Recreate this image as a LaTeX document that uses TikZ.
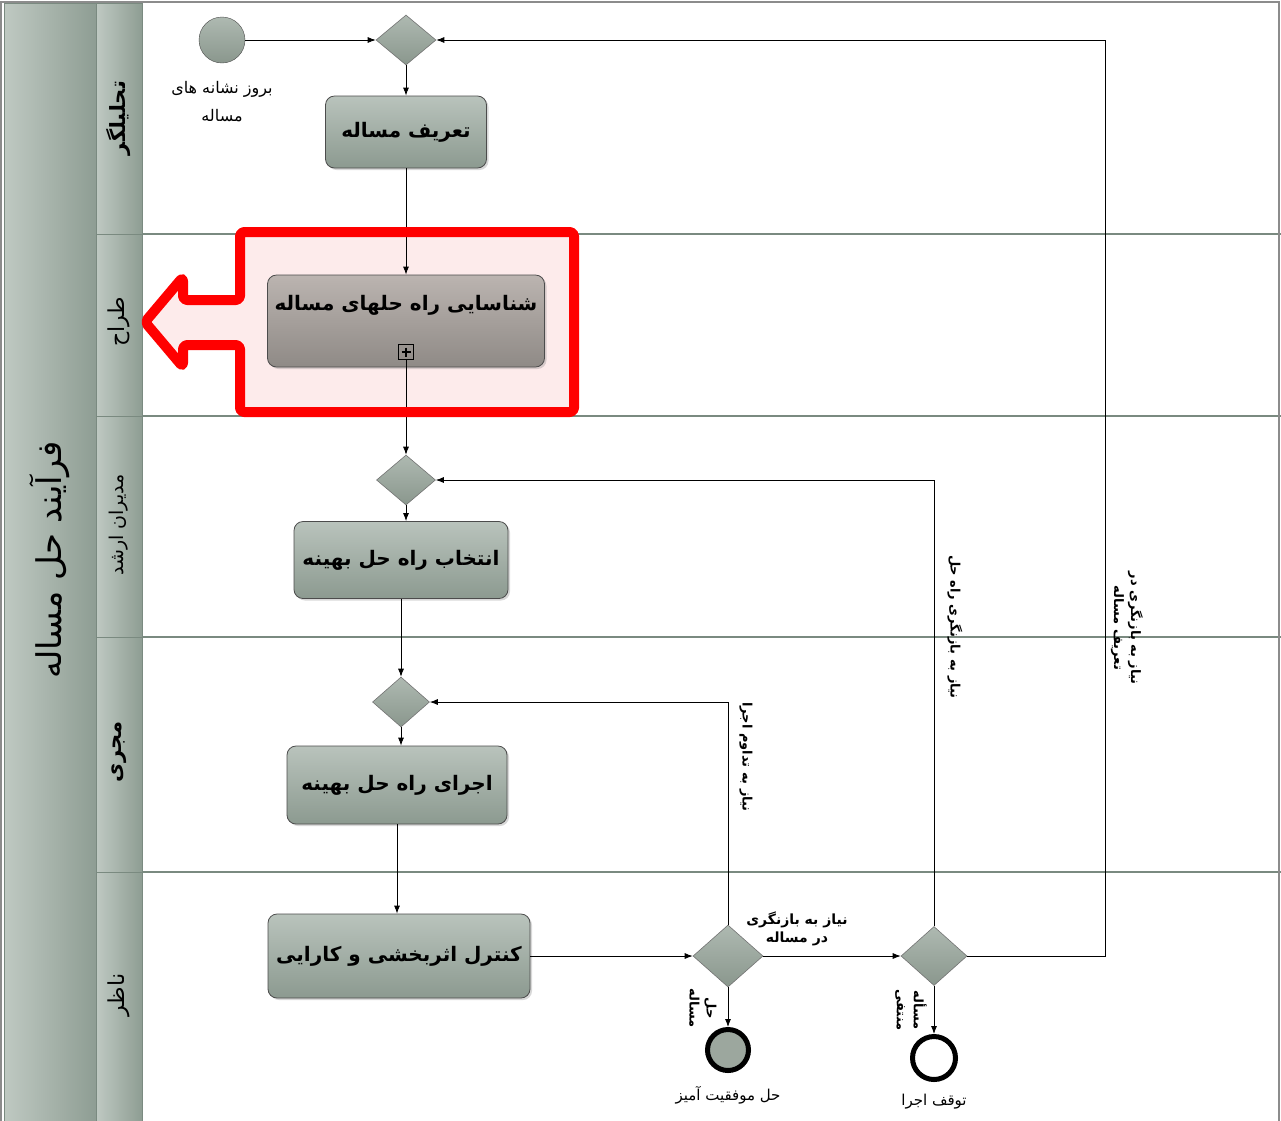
\documentclass[tikz,border=0pt]{standalone}
\usepackage{fontspec}
\TeXXeTstate=1
\newfontfamily\arabicfont[Script=Arabic]{DejaVu Sans}
\usetikzlibrary{arrows.meta,shapes.geometric,shadows}
\definecolor{tasktop}{HTML}{B9C3BC}
\definecolor{taskbot}{HTML}{8C9A90}
\definecolor{ttop}{HTML}{BBB4B0}
\definecolor{tbot}{HTML}{8F8A86}
\definecolor{gwtop}{HTML}{AEB9B1}
\definecolor{gwbot}{HTML}{8A978D}
\definecolor{hleft}{HTML}{BFC9C2}
\definecolor{hright}{HTML}{8E9D93}
\definecolor{laneline}{HTML}{7A8A80}
\definecolor{pinkfill}{HTML}{FDEBEB}
\definecolor{hired}{HTML}{FF0000}
\newcommand{\fatext}[1]{\beginR #1\endR}
\begin{document}
\begin{tikzpicture}[x=1pt,y=-1pt,
  task/.style={draw=black!70, rounded corners=9pt, top color=tasktop, bottom color=taskbot,
    line width=0.8pt, drop shadow={shadow xshift=2pt,shadow yshift=-2pt,opacity=0.3},
    font=\arabicfont\bfseries\fontsize{20}{24}\selectfont, align=center, inner sep=0pt},
  gw/.style={diamond, draw=black!55, top color=gwtop, bottom color=gwbot, inner sep=0pt, line width=0.6pt},
  flow/.style={draw=black, line width=0.8pt, -{Latex[length=8pt,width=6pt]}},
  header/.style={left color=hleft, right color=hright, draw=laneline, line width=1pt},
  lanelbl/.style={font=\arabicfont\fontsize{22}{26}\selectfont, rotate=90},
  elbl/.style={font=\arabicfont\bfseries\fontsize{13}{17}\selectfont, align=center},
  evlbl/.style={font=\arabicfont\bfseries\fontsize{13}{17}\selectfont, align=center, rotate=-90},
]
\useasboundingbox (0,0) rectangle (1281,1120);
\fill[white] (0,0) rectangle (1281,1120);
% pool and lane headers
\draw[header] (4,3) rectangle (96,1124);
\draw[header] (96,3) rectangle (142,234);
\draw[header] (96,234) rectangle (142,416);
\draw[header] (96,416) rectangle (142,637);
\draw[header] (96,637) rectangle (142,872);
\draw[header] (96,872) rectangle (142,1124);
\foreach \yy in {234,416,637,872} \draw[laneline, line width=1.2pt] (142,\yy) -- (1281,\yy);
\draw[black!45, line width=1.2pt] (1,1124) -- (1,2) -- (1279,2) -- (1279,1124);
\node[font=\arabicfont\fontsize{34}{40}\selectfont, rotate=90] (pool) at (50,560) {\fatext{فرآیند حل مساله}};
\node[lanelbl, font=\arabicfont\bfseries\fontsize{21}{25}\selectfont] (l1) at (119,118) {\fatext{تحلیلگر}};
\node[lanelbl] (l2) at (119,322) {\fatext{طراح}};
\node[lanelbl, font=\arabicfont\fontsize{19}{23}\selectfont] (l3) at (119,525) {\fatext{مدیران ارشد}};
\node[lanelbl, font=\arabicfont\bfseries\fontsize{21}{25}\selectfont] (l4) at (119,752) {\fatext{مجری}};
\node[lanelbl] (l5) at (119,995) {\fatext{ناظر}};
% highlight fill
\path[fill=pinkfill, rounded corners=4pt] (240,300) -- (240,232) -- (574,232) -- (574,412) -- (240,412) -- (240,345) -- (183,345) -- (183,367) -- (145,322) -- (183,277) -- (183,300) -- cycle;
% nodes
\node[circle, draw=black!70, top color=gwtop, bottom color=gwbot, minimum size=46pt, inner sep=0pt] (start) at (222,40) {};
\node[font=\arabicfont\fontsize{16}{28}\selectfont, align=center] (startlbl) at (222,102) {\fatext{بروز نشانه های}\\\fatext{مساله}};
\node[gw, minimum width=60pt, minimum height=50pt] (g1) at (406,40) {};
\node[task, minimum width=161pt, minimum height=72pt] (t1) at (406,132) {\fatext{تعریف مساله}};
\node[task, top color=ttop, bottom color=tbot, minimum width=277pt, minimum height=92pt] (t2) at (406,321) {};
\node[font=\arabicfont\bfseries\fontsize{20}{24}\selectfont] (t2txt) at (406,305) {\fatext{شناسایی راه حلهای مساله}};
\node[draw=black, line width=0.9pt, minimum size=15pt, inner sep=0pt] (t2plus) at (406,352) {};
\draw[black, line width=1.6pt] (t2plus.center) +(-4.5,0) -- +(4.5,0) (t2plus.center) +(0,-4.5) -- +(0,4.5);
\node[gw, minimum width=59pt, minimum height=50pt] (g2) at (406,480) {};
\node[task, minimum width=214pt, minimum height=77pt] (t3) at (401,560) {\fatext{انتخاب راه حل بهینه}};
\node[gw, minimum width=57pt, minimum height=50pt] (g3) at (401,702) {};
\node[task, minimum width=220pt, minimum height=78pt] (t4) at (397,785) {\fatext{اجرای راه حل بهینه}};
\node[task, minimum width=262pt, minimum height=84pt] (t5) at (399,956) {\fatext{کنترل اثربخشی و کارایی}};
\node[gw, minimum width=70pt, minimum height=62pt] (g4) at (728,956) {};
\node[gw, minimum width=66pt, minimum height=59pt] (g5) at (934,956) {};
\node[circle, draw=black, line width=5pt, fill=gwbot!85!white, minimum size=41pt, inner sep=0pt] (e1) at (728,1050) {};
\node[circle, draw=black, line width=5pt, fill=white, minimum size=43pt, inner sep=0pt] (e2) at (934,1058) {};
\node[font=\arabicfont\fontsize{15}{18}\selectfont] (e1lbl) at (728,1095) {\fatext{حل موفقیت آمیز}};
\node[font=\arabicfont\fontsize{15}{18}\selectfont] (e2lbl) at (934,1102) {\fatext{توقف اجرا}};
\coordinate (c5) at (1105,956);
% connectors
\draw[flow] (start) -- (g1);
\draw[flow] (g1.south) -- (t1.north);
\draw[flow] (t1.south) -- (t2.north);
\draw[flow] (t2plus.south) -- (g2.north);
\draw[flow] (g2.south) -- (g2.south |- t3.north);
\draw[flow] (t3.south) -- (g3.north);
\draw[flow] (g3.south) -- (g3.south |- t4.north);
\draw[flow] (t4.south) -- (t4.south |- t5.north);
\draw[flow] (t5.east) -- (g4.west);
\draw[flow] (g4.east) -- (g5.west);
\draw[flow] (g4.south) -- (e1.north);
\draw[flow] (g5.south) -- (e2.north);
\draw[flow] (g4.north) |- (g3.east);
\draw[flow] (g5.north) |- (g2.east);
\draw[flow] (g5.east) -- (c5) |- (g1.east);
% connector labels
\node[elbl, font=\arabicfont\bfseries\fontsize{14}{18}\selectfont] (lb45) at (797,929) {\fatext{نیاز به بازنگری}\\\fatext{در مساله}};
\node[evlbl] (lb43) at (746,757) {\fatext{نیاز به تداوم اجرا}};
\node[evlbl] (lb52) at (955,627) {\fatext{نیاز به بازنگری راه حل}};
\node[evlbl] (lb51) at (1127,628) {\fatext{نیاز به بازنگری در}\\\fatext{تعریف مساله}};
\node[evlbl] (lbe1) at (703,1008) {\fatext{حل}\\\fatext{مساله}};
\node[evlbl] (lbe2) at (911,1010) {\fatext{مسأله}\\\fatext{منتفی}};
% highlight stroke
\draw[hired, line width=10pt, rounded corners=4pt, line join=round] (240,300) -- (240,232) -- (574,232) -- (574,412) -- (240,412) -- (240,345) -- (183,345) -- (183,367) -- (145,322) -- (183,277) -- (183,300) -- cycle;
\end{tikzpicture}
\end{document}
